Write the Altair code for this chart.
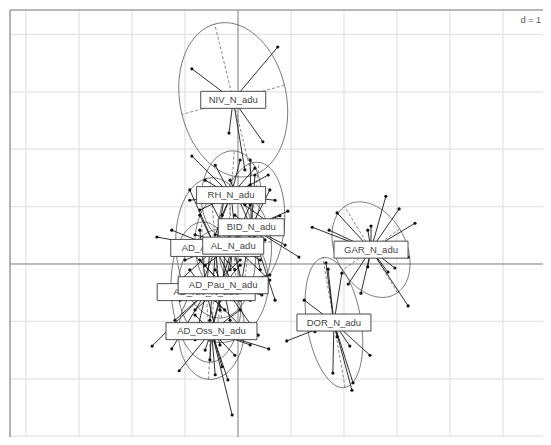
import altair as alt
import pandas as pd
import numpy as np

# ---------------- data ----------------
groups = ["AD_Asp_N_adu", "AD_Niv_N_adu", "AD_Oss_N_adu", "AD_Pau_N_adu",
          "AL_N_adu", "BID_N_adu", "DOR_N_adu", "GAR_N_adu", "NIV_N_adu", "RH_N_adu"]

center_x = [-0.42, -0.60, -0.50, -0.28, -0.09, 0.25, 1.81, 2.51, -0.09, -0.13]
center_y = [0.28, -0.49, -1.17, -0.37, 0.32, 0.64, -1.02, 0.25, 2.86, 1.20]

# ellipse: major semi-axis vector (dx, dy) and minor semi-axis length
ell_ux = [-0.11, -0.09, 0.06, 0.15, -0.09, 0.15, -0.21, -0.50, -0.35, 0.06]
ell_uy = [1.22, 1.22, 0.84, 0.99, 0.96, 1.13, 1.13, 0.75, 1.32, 0.77]
ell_b = [0.75, 0.66, 0.62, 0.85, 0.72, 0.62, 0.51, 0.65, 1.00, 0.56]

pts = {
    "NIV_N_adu": ([-0.87, 0.75, -0.17, 0.47, 0.13],
                  [3.40, 3.78, 2.28, 2.13, 1.64]),
    "RH_N_adu": ([-0.87, -0.43, 0.04, 0.32, 0.57, -0.62, 0.23, 0.70, -0.72, -0.30, 0.13, 0.51, -0.43, -0.06, -0.91],
                 [1.88, 1.72, 1.81, 1.67, 1.55, 1.46, 1.38, 1.11, 0.94, 0.85, 1.03, 0.77, 0.51, 0.59, 1.11]),
    "BID_N_adu": ([0.94, 0.79, 1.15, 0.60, 0.32, -0.15, -0.34, 0.42, 0.04, 0.70, 0.51, -0.06, 0.23, 0.89],
                  [0.92, 0.84, 0.12, 1.29, 1.55, 1.46, 0.24, -0.10, -0.45, -0.63, 0.42, 0.85, 1.81, 0.33]),
    "AL_N_adu": ([-0.53, 0.23, -0.81, 0.60, -0.62, 0.42, -0.25, 0.13, -0.43, 0.60, 0.04, -0.15],
                 [1.11, 1.03, 0.51, 0.59, -0.02, 0.07, -0.37, -0.54, -0.63, -0.28, 0.77, -0.10]),
    "AD_Asp_N_adu": ([-1.53, -1.25, -0.91, -0.72, -0.25, 0.13, -1.00, -0.06, -0.72, -0.34, 0.23, -1.09, -0.53, 0.04],
                     [0.47, 0.59, 1.29, 0.85, 1.20, 0.68, 0.07, -0.10, -0.45, -0.80, 0.24, -0.28, -0.98, -0.63]),
    "AD_Pau_N_adu": ([-1.00, -0.72, -0.43, 0.04, 0.45, 0.38, 0.60, -0.81, -0.53, -0.15, 0.23, -1.09, -0.25, -0.62],
                     [0.33, 0.07, -0.10, -0.02, -0.54, -1.24, -0.19, -0.80, -1.24, -0.98, -0.63, -0.63, 0.24, -0.54]),
    "AD_Niv_N_adu": ([-1.62, -1.25, -1.19, -0.91, -0.53, -0.15, 0.13, -0.34, -0.81, 0.04, -1.09, -0.25, -0.72],
                     [-1.43, -1.48, -0.98, -0.10, 0.24, -0.28, -1.15, -1.41, -1.32, 0.07, -0.54, -0.80, 0.59]),
    "AD_Oss_N_adu": ([-1.11, -0.11, 0.58, -0.30, -0.62, -0.43, -0.19, -0.81, 0.04, -0.34, -0.91, 0.23, -0.53, -0.06],
                     [-1.86, -2.63, -1.48, -1.79, -1.50, -1.93, -2.02, -0.89, -0.80, -0.63, -1.24, -1.41, -1.67, -1.59]),
    "GAR_N_adu": ([2.79, 3.04, 1.87, 1.40, 1.72, 2.45, 2.51, 3.34, 3.21, 2.96, 2.83, 3.21, 2.08, 2.32, 2.45],
                  [1.18, 0.96, 0.89, 0.64, 0.59, 0.59, 0.66, 0.71, 0.12, -0.07, -0.14, -0.73, -0.35, -0.51, -0.05]),
    "DOR_N_adu": ([1.66, 1.70, 1.96, 1.25, 0.92, 1.45, 2.11, 2.49, 1.79, 2.17, 2.15, 1.87],
                  [0.02, -0.09, -0.16, -0.63, -1.34, -1.18, -1.43, -1.59, -1.90, -2.07, -2.20, -1.27]),
}

grid_x = [-4, -3, -2, -1, 0, 1, 2, 3, 4, 5]
grid_y = [-3, -2, -1, 0, 1, 2, 3, 4]

# ---------------- build tables ----------------
cen = pd.DataFrame({"group": groups, "cx": center_x, "cy": center_y})

rows = []
for g, (xs, ys) in pts.items():
    i = groups.index(g)
    for x, y in zip(xs, ys):
        rows.append({"group": g, "x": x, "y": y, "cx": center_x[i], "cy": center_y[i]})
star = pd.DataFrame(rows)

ell_rows, ax_rows = [], []
t = np.linspace(0, 2 * np.pi, 121)
for i, g in enumerate(groups):
    ux, uy = ell_ux[i], ell_uy[i]
    n = np.hypot(ux, uy)
    vx, vy = -uy / n * ell_b[i], ux / n * ell_b[i]
    cx, cy = center_x[i], center_y[i]
    for k, tt in enumerate(t):
        ell_rows.append({"group": g, "k": k,
                         "x": cx + ux * np.cos(tt) + vx * np.sin(tt),
                         "y": cy + uy * np.cos(tt) + vy * np.sin(tt)})
    ax_rows.append({"group": g, "x": cx - ux, "y": cy - uy, "x2": cx + ux, "y2": cy + uy})
    ax_rows.append({"group": g, "x": cx - vx, "y": cy - vy, "x2": cx + vx, "y2": cy + vy})
ell = pd.DataFrame(ell_rows)
axes_df = pd.DataFrame(ax_rows)

W, H = 533, 427
xs_ = alt.Scale(domain=[-4.302, 5.755], nice=False, zero=False)
ys_ = alt.Scale(domain=[-3.014, 4.425], nice=False, zero=False)
X = lambda f: alt.X(f, type="quantitative", scale=xs_, axis=None)
Y = lambda f: alt.Y(f, type="quantitative", scale=ys_, axis=None)

gx = alt.Chart(pd.DataFrame({"g": grid_x})).mark_rule(color="#e4e4e4", strokeWidth=1.3).encode(x=X("g"))
gy = alt.Chart(pd.DataFrame({"g": grid_y})).mark_rule(color="#e4e4e4", strokeWidth=1.3).encode(y=Y("g"))
ox = alt.Chart(pd.DataFrame({"g": [0]})).mark_rule(color="#8c8c8c", strokeWidth=1).encode(x=X("g"))
oy = alt.Chart(pd.DataFrame({"g": [0]})).mark_rule(color="#8c8c8c", strokeWidth=1).encode(y=Y("g"))

frame_top = alt.Chart(pd.DataFrame({"a": [0]})).mark_rule(color="#a0a0a0", strokeWidth=1.6).encode(
    x=alt.value(0), x2=alt.value(W), y=alt.value(0))
frame_left = alt.Chart(pd.DataFrame({"a": [0]})).mark_rule(color="#a0a0a0", strokeWidth=1.6).encode(
    x=alt.value(0), y=alt.value(0), y2=alt.value(H))

ellipses = alt.Chart(ell).mark_line(color="#555555", strokeWidth=0.8).encode(
    x=X("x"), y=Y("y"), detail="group:N", order="k:Q")
ell_axes = alt.Chart(axes_df).mark_rule(color="#555555", strokeWidth=0.7, strokeDash=[3, 2]).encode(
    x=X("x"), y=Y("y"), x2="x2", y2="y2")
stars = alt.Chart(star).mark_rule(color="#1a1a1a", strokeWidth=0.9).encode(
    x=X("x"), y=Y("y"), x2="cx", y2="cy")
points = alt.Chart(star).mark_circle(color="#111111", size=10, opacity=1).encode(x=X("x"), y=Y("y"))

box_w = {"AD_Asp_N_adu": 90, "AD_Niv_N_adu": 98, "AD_Oss_N_adu": 91, "AD_Pau_N_adu": 90,
         "AL_N_adu": 61, "BID_N_adu": 66, "DOR_N_adu": 74, "GAR_N_adu": 74,
         "NIV_N_adu": 65, "RH_N_adu": 69}

label_layers = []
for g in groups:
    sub = cen[cen.group == g]
    w = box_w[g]
    label_layers.append(
        alt.Chart(sub).mark_rect(fill="white", stroke="#3a3a3a", strokeWidth=0.9,
                                 xOffset=-w / 2, x2Offset=w / 2, yOffset=-8.5, y2Offset=8.5).encode(
            x=X("cx"), x2="cx", y=Y("cy"), y2="cy"))
    label_layers.append(
        alt.Chart(sub).mark_text(font="Liberation Sans", fontSize=9.5, color="#444444",
                                 align="center", baseline="middle").encode(
            x=X("cx"), y=Y("cy"), text="group:N"))

dlab = alt.Chart(pd.DataFrame({"t": ["d = 1"]})).mark_text(
    font="Liberation Sans", fontSize=9, color="#555555", align="right", baseline="middle").encode(
    x=alt.value(W - 2), y=alt.value(10), text="t:N")

chart = alt.layer(gx, gy, ox, oy, frame_top, frame_left, ellipses, ell_axes, stars, points,
                  *label_layers, dlab).properties(
    width=W, height=H,
    padding={"left": 2, "top": 2, "right": 0, "bottom": 0},
    autosize=alt.AutoSizeParams(type="none"),
).configure_view(stroke=None)

chart.save("out.html", embed_options={"renderer": "svg", "actions": False})
